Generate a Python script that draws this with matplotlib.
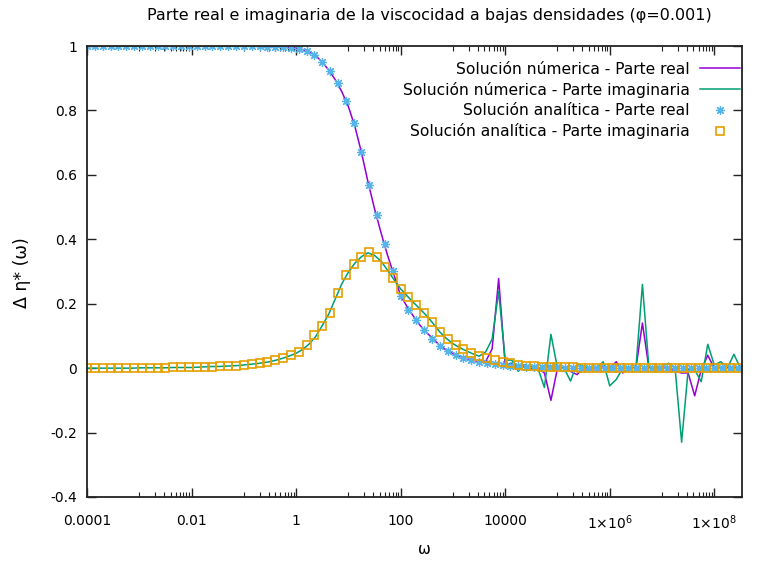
import matplotlib
matplotlib.use("Agg")
import matplotlib.pyplot as plt
import numpy as np
from matplotlib.ticker import FixedLocator, NullFormatter

plt.rcParams['font.family'] = ['DejaVu Sans']

# numeric solution, sampled every 1/8 decade (log10 of omega)
log_w_num = [
    -4.0, -3.875, -3.75, -3.625, -3.5, -3.375, -3.25, -3.125,
    -3.0, -2.875, -2.75, -2.625, -2.5, -2.375, -2.25, -2.125,
    -2.0, -1.875, -1.75, -1.625, -1.5, -1.375, -1.25, -1.125,
    -1.0, -0.875, -0.75, -0.625, -0.5, -0.375, -0.25, -0.125,
    0.0, 0.125, 0.25, 0.375, 0.5, 0.625, 0.75, 0.875,
    1.0, 1.125, 1.25, 1.375, 1.5, 1.625, 1.75, 1.875,
    2.0, 2.125, 2.25, 2.375, 2.5, 2.625, 2.75, 2.875,
    3.0, 3.125, 3.25, 3.375, 3.5, 3.625, 3.75, 3.875,
    4.0, 4.125, 4.25, 4.375, 4.5, 4.625, 4.75, 4.875,
    5.0, 5.125, 5.25, 5.375, 5.5, 5.625, 5.75, 5.875,
    6.0, 6.125, 6.25, 6.375, 6.5, 6.625, 6.75, 6.875,
    7.0, 7.125, 7.25, 7.375, 7.5, 7.625, 7.75, 7.875,
    8.0, 8.125, 8.25, 8.375, 8.5,
]
real_num = [
    1.0, 1.0, 1.0, 1.0, 1.0, 1.0, 1.0, 1.0,
    1.0, 1.0, 1.0, 1.0, 1.0, 1.0, 1.0, 1.0,
    1.0, 1.0, 1.0, 1.0, 1.0, 1.0, 1.0, 1.0,
    1.0, 0.999, 0.999, 0.998, 0.998, 0.997, 0.996, 0.995,
    0.993, 0.989, 0.982, 0.970, 0.950, 0.925, 0.895, 0.858,
    0.812, 0.750, 0.670, 0.578, 0.495, 0.420, 0.350, 0.288,
    0.225, 0.190, 0.160, 0.132, 0.110, 0.090, 0.070, 0.056,
    0.045, 0.037, 0.030, 0.025, 0.020, 0.020, 0.060, 0.278,
    0.010, 0.015, 0.005, 0.010, 0.000, 0.000, -0.015, -0.100,
    0.000, 0.000, -0.010, -0.020, 0.000, -0.005, 0.000, 0.005,
    0.000, 0.020, -0.015, 0.000, 0.000, 0.140, 0.000, 0.000,
    0.000, 0.000, -0.010, -0.015, -0.015, -0.086, -0.005, 0.040,
    0.000, 0.000, 0.000, 0.000, 0.000,
]
imag_num = [
    0.0, 0.0, 0.0, 0.0, 0.0, 0.0, 0.0, 0.0,
    0.001, 0.001, 0.001, 0.001, 0.001, 0.002, 0.002, 0.002,
    0.002, 0.003, 0.004, 0.005, 0.005, 0.006, 0.007, 0.008,
    0.010, 0.012, 0.014, 0.017, 0.020, 0.025, 0.031, 0.038,
    0.046, 0.058, 0.075, 0.098, 0.132, 0.168, 0.215, 0.262,
    0.298, 0.326, 0.346, 0.358, 0.350, 0.332, 0.304, 0.274,
    0.246, 0.224, 0.203, 0.183, 0.162, 0.138, 0.112, 0.092,
    0.076, 0.064, 0.054, 0.045, 0.037, 0.050, 0.090, 0.238,
    0.025, 0.025, -0.010, 0.010, 0.005, 0.000, -0.060, 0.105,
    0.000, 0.000, -0.040, 0.015, 0.005, 0.000, 0.000, 0.020,
    -0.055, -0.035, 0.000, 0.000, 0.000, 0.260, 0.000, 0.005,
    0.005, 0.015, 0.000, -0.230, -0.005, -0.005, -0.042, 0.074,
    0.010, 0.020, 0.000, 0.043, 0.000,
]

# analytic solution points
log_w_ana = [
    -4.00, -3.85, -3.70, -3.55, -3.40, -3.25, -3.10, -2.95, -2.80, -2.65,
    -2.50, -2.35, -2.20, -2.05, -1.90, -1.75, -1.60, -1.45, -1.30, -1.15,
    -1.00, -0.85, -0.70, -0.55, -0.40, -0.25, -0.10, 0.05, 0.20, 0.35,
    0.50, 0.65, 0.80, 0.95, 1.10, 1.25, 1.40, 1.55, 1.70, 1.85,
    2.00, 2.15, 2.30, 2.45, 2.60, 2.75, 2.90, 3.05, 3.20, 3.35,
    3.50, 3.65, 3.80, 3.95, 4.10, 4.25, 4.40, 4.55, 4.70, 4.85,
    5.00, 5.15, 5.30, 5.45, 5.60, 5.75, 5.90, 6.05, 6.20, 6.35,
    6.50, 6.65, 6.80, 6.95, 7.10, 7.25, 7.40, 7.55, 7.70, 7.85,
    8.00, 8.15, 8.30, 8.45,
]
real_ana = [
    1.0, 1.0, 1.0, 1.0, 1.0, 1.0, 1.0, 1.0, 1.0, 1.0,
    1.0, 1.0, 1.0, 1.0, 1.0, 1.0, 1.0, 1.0, 1.0, 1.0,
    1.000, 0.999, 0.999, 0.998, 0.997, 0.996, 0.994, 0.991, 0.984, 0.972,
    0.950, 0.921, 0.884, 0.828, 0.760, 0.670, 0.567, 0.475, 0.385, 0.300,
    0.225, 0.180, 0.148, 0.118, 0.092, 0.070, 0.054, 0.042, 0.033, 0.026,
    0.020, 0.016, 0.013, 0.010, 0.008, 0.006, 0.005, 0.004, 0.003, 0.002,
    0.002, 0.001, 0.001, 0.001, 0.001, 0.0, 0.0, 0.0, 0.0, 0.0,
    0.0, 0.0, 0.0, 0.0, 0.0, 0.0, 0.0, 0.0, 0.0, 0.0,
    0.0, 0.0, 0.0, 0.0,
]
imag_ana = [
    0.0, 0.0, 0.0, 0.0, 0.0, 0.001, 0.001, 0.001, 0.001, 0.001,
    0.001, 0.002, 0.002, 0.002, 0.003, 0.004, 0.005, 0.006, 0.007, 0.008,
    0.010, 0.012, 0.015, 0.019, 0.024, 0.031, 0.040, 0.050, 0.072, 0.103,
    0.132, 0.172, 0.232, 0.288, 0.324, 0.346, 0.359, 0.344, 0.313, 0.280,
    0.246, 0.220, 0.196, 0.170, 0.142, 0.112, 0.090, 0.073, 0.059, 0.047,
    0.037, 0.030, 0.024, 0.019, 0.015, 0.011, 0.008, 0.006, 0.005, 0.004,
    0.003, 0.002, 0.002, 0.001, 0.001, 0.0, 0.0, 0.0, 0.0, 0.0,
    0.0, 0.0, 0.0, 0.0, 0.0, 0.0, 0.0, 0.0, 0.0, 0.0,
    0.0, 0.0, 0.0, 0.0,
]

labels = ["Solución númerica - Parte real", "Solución númerica - Parte imaginaria",
          "Solución analítica - Parte real", "Solución analítica - Parte imaginaria"]
xtick_vals = [1e-4, 1e-2, 1, 1e2, 1e4, 1e6, 1e8]
xtick_labels = ["0.0001", "0.01", "1", "100", "10000", "1×10$^{6}$", "1×10$^{8}$"]
ytick_vals = [-0.4, -0.2, 0, 0.2, 0.4, 0.6, 0.8, 1]

w_num = 10.0 ** np.array(log_w_num)
w_ana = 10.0 ** np.array(log_w_ana)

fig = plt.figure(figsize=(7.6, 5.68), dpi=100)
ax = fig.add_axes([87 / 760, 71 / 568, 655 / 760, 451 / 568])

ax.plot(w_num, real_num, color='#9400d3', lw=1.1, label=labels[0])
ax.plot(w_num, imag_num, color='#009e73', lw=1.1, label=labels[1])
ax.plot(w_ana, real_ana, ls='none', marker=(8, 2, 0), ms=6.5, mew=0.9,
        color='#56b4e9', label=labels[2])
ax.plot(w_ana, imag_ana, ls='none', marker='s', ms=6.3, mew=1.2,
        mfc='none', mec='#e69f00', label=labels[3])

ax.set_xscale('log')
ax.set_xlim(1e-4, 10 ** 8.53)
ax.set_ylim(-0.4, 1.0)

ax.xaxis.set_major_locator(FixedLocator(xtick_vals))
ax.set_xticklabels(xtick_labels)
minor = [m * 10.0 ** e for e in [-3, -1, 1, 3, 5, 7] for m in range(1, 10)]
ax.xaxis.set_minor_locator(FixedLocator(minor))
ax.xaxis.set_minor_formatter(NullFormatter())
ax.set_yticks(ytick_vals)
ax.set_yticklabels([f"{v:g}" for v in ytick_vals])

ax.tick_params(which='both', direction='in', top=True, right=True,
               labelsize=10, colors='#222222', labelcolor='black')
ax.tick_params(axis='y', which='major', length=6.5, width=1, pad=7)
ax.tick_params(axis='x', which='major', length=6.5, width=1, pad=12)
ax.tick_params(which='minor', length=3.5, width=0.8)
for s in ax.spines.values():
    s.set_linewidth(1.3)
    s.set_color('#222222')

ax.legend(loc='upper right', bbox_to_anchor=(0.997, 0.965), frameon=False,
          markerfirst=False, fontsize=11.2, handlelength=2.6, handletextpad=0.64,
          labelspacing=0.33, borderaxespad=0, borderpad=0)

fig.text(0.565, 0.973, "Parte real e imaginaria de la viscocidad a bajas densidades (φ=0.001)",
         ha='center', va='center', fontsize=11.5)
fig.text(0.029, 0.52, "Δ η* (ω)", rotation=90, ha='center', va='center', fontsize=12.5)
fig.text(0.559, 0.032, "ω", ha='center', va='center', fontsize=11)

fig.savefig("out.png", dpi=100)
